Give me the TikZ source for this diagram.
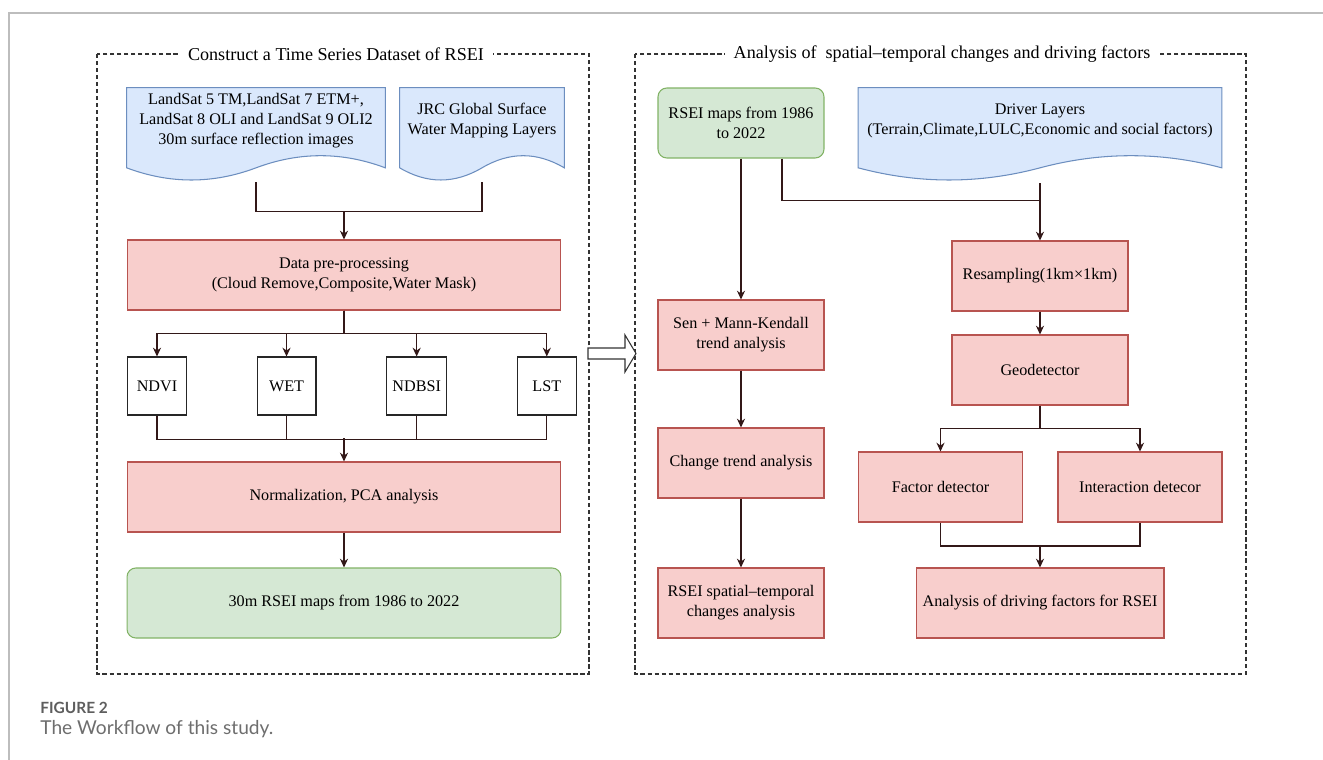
\documentclass[tikz,border=0pt]{standalone}
\usepackage{fontspec}
\setmainfont{Liberation Serif}
\newfontfamily\capfont{Lato}
\usetikzlibrary{arrows.meta, positioning, calc}
\usepackage{xcolor}

\definecolor{docfill}{HTML}{DAE8FC}
\definecolor{docline}{HTML}{6C8EBF}
\definecolor{procfill}{HTML}{F8CECC}
\definecolor{procline}{HTML}{B85450}
\definecolor{mapfill}{HTML}{D5E8D4}
\definecolor{mapline}{HTML}{82B366}
\definecolor{linkc}{RGB}{50,24,24}
\definecolor{capgray}{HTML}{6E6E6E}
\definecolor{framegray}{HTML}{BDBDBD}

\pgfdeclarelayer{paper}
\pgfdeclarelayer{docs}
\pgfsetlayers{paper,docs,main}

% wavy outline of a document node, drawn behind its text
\newcommand{\docwave}[1]{%
  \begin{pgfonlayer}{docs}
  \filldraw[fill=docfill, draw=docline, line width=0.6pt]
    (#1.north west) -- (#1.north east) -- ($(#1.south east)+(0,14.5)$)
    .. controls ($(#1.south west)!0.833!(#1.south east)+(0,-1.7)$)
       and ($(#1.south west)!0.667!(#1.south east)+(0,-1.7)$) .. ($(#1.south)+(0,14.5)$)
    .. controls ($(#1.south west)!0.333!(#1.south east)+(0,30.7)$)
       and ($(#1.south west)!0.167!(#1.south east)+(0,30.7)$) .. ($(#1.south west)+(0,14.5)$)
    -- cycle;
  \end{pgfonlayer}}

\begin{document}
\begin{tikzpicture}[
        x=0.02cm, y=-0.02cm,
        font=\fontsize{9.2}{11.3}\selectfont,
        doc/.style={rectangle, inner sep=0pt, align=center, minimum height=1.3cm},
        proc/.style={rectangle, draw=procline, fill=procfill, line width=0.6pt, align=center, minimum height=1.4cm},
        result/.style={rectangle, rounded corners=5pt, draw=mapline, fill=mapfill, line width=0.6pt, align=center, minimum height=1.4cm},
        index/.style={rectangle, draw=black!85, fill=white, line width=0.6pt, minimum width=1.18cm, minimum height=1.16cm},
        panel/.style={draw=black!80, line width=0.7pt, dash pattern=on 2.4pt off 1.6pt},
        paneltitle/.style={fill=white, inner sep=5pt, font=\fontsize{10.3}{12}\selectfont},
        line/.style={draw=linkc, line width=0.65pt},
        arrow/.style={line, -{Stealth[length=5pt,width=4.6pt]}}
    ]

        \begin{pgfonlayer}{paper}
        \fill[white] (0,0) rectangle (1323,760);
        \end{pgfonlayer}
        \useasboundingbox (0,0) rectangle (1323,760);
        \draw[framegray, line width=0.6pt] (9,760) -- (9,13) -- (1323,13);

        % the two dashed panels
        \draw[panel] (97,54) rectangle (589,674);
        \draw[panel] (635,54) rectangle (1246,674);
        \node [paneltitle] (titleA) at (336,54) {Construct a Time Series Dataset of RSEI};
        \node [paneltitle] (titleB) at (942,54) {Analysis of~ spatial–temporal changes and driving factors};

        % left panel
        \node [doc, minimum width=5.16cm] (landsat) at (256,120.5) {LandSat 5 TM,LandSat 7 ETM+,\\LandSat 8 OLI and LandSat 9 OLI2\\30m surface reflection images};
        \docwave{landsat}
        \node [doc, minimum width=3.28cm] (jrc) at (482,120.5) {JRC Global Surface\\Water Mapping Layers};
        \docwave{jrc}
        \node [proc, minimum width=8.68cm] (prep) at (344,275) {Data pre-processing\\(Cloud Remove,Composite,Water Mask)};
        \node [index] (ndvi) at (157,386) {NDVI};
        \node [index, right=1.39cm of ndvi] (wet) {WET};
        \node [index, right=1.39cm of wet] (ndbsi) {NDBSI};
        \node [index, right=1.39cm of ndbsi] (lst) {LST};
        \node [proc, minimum width=8.68cm] (norm) at (344,497) {Normalization, PCA analysis};
        \node [result, minimum width=8.68cm] (rsei30) at (344,603) {30m RSEI maps from 1986 to 2022};

        \coordinate (lsB) at ($(landsat.south)+(0,29)$);
        \coordinate (jrcB) at ($(jrc.south)+(0,29)$);
        \coordinate (jn1) at ($(lsB)+(0,29)$);
        \draw [line] (lsB) -- (jn1) -| (jrcB);
        \draw [arrow] (prep.north |- jn1) -- (prep);
        \foreach \n in {ndvi,wet,ndbsi,lst}
            \draw [arrow] (prep.south) -- ++(0,23) -| (\n.north);
        \draw [line] (ndvi.south) -- ++(0,24) -| (lst.south);
        \draw [line] (wet.south) -- ++(0,24);
        \draw [line] (ndbsi.south) -- ++(0,24);
        \draw [arrow] ($(norm.north)+(0,-23)$) -- (norm);
        \draw [arrow] (norm) -- (rsei30);

        % hollow arrow between the panels
        \draw [draw=black!80, fill=white, line width=0.6pt] (588,348) -- (625,348) -- (625,335) -- (636,353.5) -- (625,372) -- (625,359) -- (588,359) -- cycle;

        % right panel
        \node [result, minimum width=3.32cm] (rseimap) at (741,123) {RSEI maps from 1986\\to 2022};
        \node [doc, minimum width=7.26cm] (driver) at (1040,120.5) {Driver Layers\\(Terrain,Climate,LULC,Economic and social factors)};
        \docwave{driver}
        \node [proc, minimum width=3.32cm] (sen) at (741,335) {Sen + Mann-Kendall\\trend analysis};
        \node [proc, minimum width=3.32cm] (change) at (741,463) {Change trend analysis};
        \node [proc, minimum width=3.32cm] (spatial) at (741,603) {RSEI spatial–temporal\\changes analysis};
        \node [proc, minimum width=3.52cm] (resamp) at (1040,276) {Resampling(1km×1km)};
        \node [proc, minimum width=3.52cm] (geo) at (1040,370) {Geodetector};
        \node [proc, minimum width=3.28cm] (factor) at (940.5,487) {Factor detector};
        \node [proc, minimum width=3.28cm] (interact) at (1140,487) {Interaction detecor};
        \node [proc, minimum width=4.96cm] (drivers) at (1040,603) {Analysis of driving factors for RSEI};

        \coordinate (rmB) at ($(rseimap.south)+(41,0)$);
        \coordinate (drvB) at ($(driver.south)+(0,30)$);
        \coordinate (jn2) at ($(drvB)+(0,17)$);
        \draw [arrow] (rseimap) -- (sen);
        \draw [line] (rmB) |- (jn2);
        \draw [arrow] (drvB) -- (resamp);
        \draw [arrow] (sen) -- (change);
        \draw [arrow] (change) -- (spatial);
        \draw [arrow] (resamp) -- (geo);
        \draw [arrow] (geo.south) -- ++(0,23) -| (factor.north);
        \draw [arrow] (geo.south) -- ++(0,23) -| (interact.north);
        \draw [line] (factor.south) -- ++(0,23.5) -| (interact.south);
        \draw [arrow] ($(drivers.north)+(0,-22.5)$) -- (drivers);

        % caption
        \node [anchor=west, inner sep=0pt, text=capgray!85!black, font=\capfont\bfseries\fontsize{8.8}{11}\selectfont] (fignum) at (40,708) {FIGURE 2};
        \node [anchor=west, inner sep=0pt, text=capgray, font=\capfont\fontsize{10.9}{13}\selectfont] (figcap) at (40,729.5) {The Workflow of this study.};
    \end{tikzpicture}
\end{document}
